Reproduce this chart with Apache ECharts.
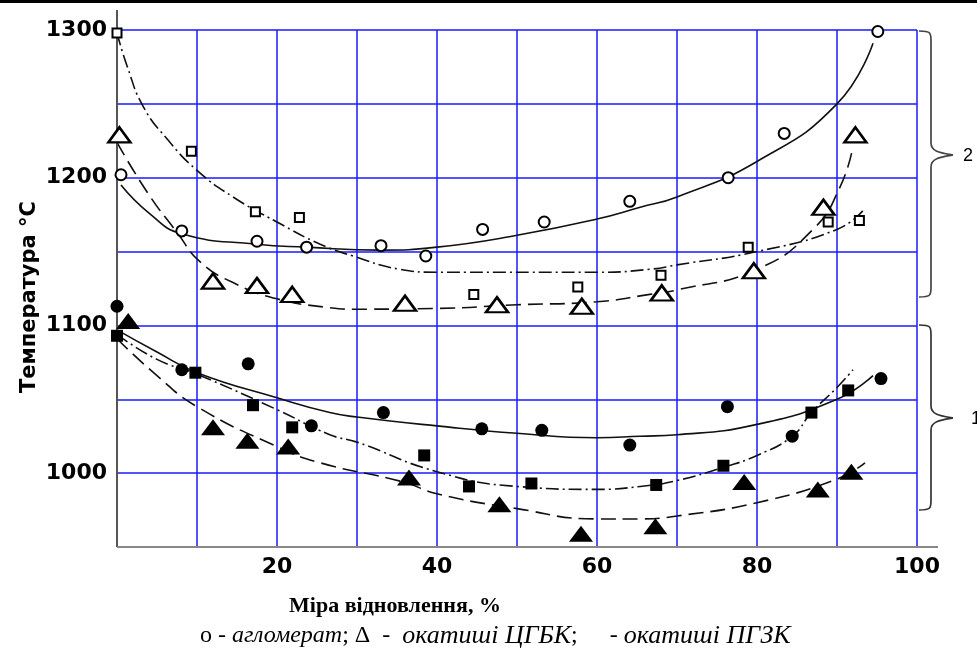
<!DOCTYPE html>
<html>
<head>
<meta charset="utf-8">
<script src="https://cdn.jsdelivr.net/npm/echarts@6/dist/echarts.min.js"></script>
<style>
html,body{margin:0;padding:0;background:#fff;}
#c{width:977px;height:651px;}
</style>
</head>
<body>
<div id="c"></div>
<script>
// ---- tick labels ----
const xTickLabels = [20, 40, 60, 80, 100];
const yTickLabels = [1000, 1100, 1200, 1300];

// ---- group 2 (open markers) ----
const aggloOpen = [[0.5,1202],[8.1,1164],[17.5,1157],[23.7,1153],[33,1154],[38.6,1147],[45.7,1165],[53.4,1170],[64.1,1184],[76.4,1200],[83.4,1230],[95.1,1299]];
const cgbkOpen = [[0.3,1229],[12,1130],[17.5,1127],[21.9,1121],[36,1115],[47.5,1114],[58.1,1113],[68.1,1122],[79.6,1137],[88.3,1180],[92.3,1229]];
const pgzkOpen = [[0,1298],[9.3,1218],[17.3,1177],[22.8,1173],[44.6,1121],[57.6,1126],[68,1134],[78.9,1153],[88.9,1170],[92.8,1171]];

// ---- group 1 (filled markers) ----
const aggloFilled = [[0,1113],[8.1,1070],[16.4,1074],[24.3,1032],[33.3,1041],[45.6,1030],[53.1,1029],[64.1,1019],[76.3,1045],[84.4,1025],[95.5,1064]];
const pgzkFilled = [[0,1093],[9.8,1068],[17,1046],[21.9,1031],[38.4,1012],[44,991],[51.8,993],[67.4,992],[75.8,1005],[86.8,1041],[91.4,1056]];
const cgbkFilled = [[1.4,1103],[12,1031],[16.3,1022],[21.4,1018],[36.5,997],[47.8,979],[58,959],[67.3,964],[78.4,994],[87.6,989],[91.8,1001]];

// ---- fitted curves ----
const curve2Solid = [[0.5,1195],[4,1176],[8.1,1162],[17.5,1155],[23.7,1153],[32.9,1151],[40,1153],[50,1161],[60,1172],[65.4,1180],[70,1187],[80,1211],[90,1250],[94.5,1291]];
const curve2DashDot = [[0,1298],[1.3,1275],[3.3,1248],[6.3,1226],[10,1205],[14.5,1187],[20,1170],[25.4,1155],[29.5,1147],[35.4,1138],[40,1136],[60,1136],[66.6,1138],[70,1141],[80,1150],[90,1165],[93.3,1178]];
const curve2Dash = [[0,1224],[3.8,1190],[7.5,1163],[10.4,1143],[14.5,1129],[20,1118],[26.6,1112],[29.5,1111],[40,1111.5],[50,1114],[60,1116],[66.6,1121],[70,1124],[80,1138],[87,1165],[90.4,1194],[92,1221]];
const curve1Solid = [[0,1097],[5,1082],[10,1068],[20,1051],[26.6,1041],[30,1038],[40,1032],[50,1027],[60,1024],[65.4,1025],[70,1026],[80,1033],[90,1050],[94.5,1066]];
const curve1DashDot = [[0,1094],[5,1077],[10,1067],[20,1043],[26.6,1026],[30,1021],[40,1001],[50,991],[60,989],[65.4,991],[70,995],[75.8,1004],[80,1012],[84.4,1025],[86.8,1041],[90,1058],[92,1070]];
const curve1Dash = [[0,1091],[5,1066],[10,1045],[20,1018],[25.4,1007],[35.8,994],[40,986],[50,976],[60,969],[65.4,969],[70,971],[80,980],[90,996],[93.5,1007]];

const chart = echarts.init(document.getElementById('c'), null, {renderer: 'canvas'});

const tickFont = {fontFamily: 'DejaVu Sans', fontWeight: 'bold', fontSize: 22, color: '#000'};
const gridBlue = {color: '#1a1aff', width: 1.5};

function curve(data, type) {
  return {type: 'line', data: data, smooth: true, showSymbol: false, silent: true,
    lineStyle: {color: '#111', width: 1.6, type: type}, z: 3};
}
function marks(data, symbol, size, filled, bw) {
  return {type: 'scatter', data: data, symbol: symbol, symbolSize: size, silent: true, z: 5,
    itemStyle: filled ? {color: '#000', opacity: 1} : {color: '#fff', borderColor: '#000', borderWidth: bw, opacity: 1}};
}

const option = {
  animation: false,
  backgroundColor: '#fff',
  grid: {left: 117, top: 30, width: 800, height: 517, containLabel: false},
  xAxis: {
    type: 'value', min: 0, max: 100, interval: 10,
    axisLine: {show: false}, axisTick: {show: false},
    splitLine: {show: true, lineStyle: gridBlue},
    axisLabel: Object.assign({margin: 9, formatter: v => xTickLabels.includes(v) ? String(v) : ''}, tickFont)
  },
  yAxis: {
    type: 'value', min: 950, max: 1300, interval: 50,
    axisLine: {show: false}, axisTick: {show: false},
    splitLine: {show: true, lineStyle: gridBlue},
    axisLabel: Object.assign({margin: 10, formatter: v => yTickLabels.includes(v) ? String(v) : ''}, tickFont)
  },
  series: [
    curve(curve2Solid, 'solid'),
    curve(curve2DashDot, [13, 4, 2, 4]),
    curve(curve2Dash, [15, 7]),
    curve(curve1Solid, 'solid'),
    curve(curve1DashDot, [13, 4, 2, 4]),
    curve(curve1Dash, [15, 7]),
    marks(aggloOpen, 'circle', 11, false, 2),
    marks(cgbkOpen, 'triangle', [22, 15], false, 2.5),
    marks(pgzkOpen, 'rect', 9, false, 2),
    marks(aggloFilled, 'circle', 13, true),
    marks(pgzkFilled, 'rect', 12, true),
    marks(cgbkFilled, 'triangle', [24, 16], true)
  ]
};
chart.setOption(option);

// decorations: axis lines, titles, braces
const p0 = chart.convertToPixel({gridIndex: 0}, [0, 950]);
const p100 = chart.convertToPixel({gridIndex: 0}, [100, 1300]);
const x0 = p0[0], yb = p0[1], x1 = p100[0];

function brace(top, mid, bottom, xl, xv, xt, color) {
  const st = {stroke: color, lineWidth: 1.7, fill: null};
  return [
    {type: 'bezierCurve', shape: {x1: xl, y1: top, cpx1: xv, cpy1: top, cpx2: xv, cpy2: top + 2, x2: xv, y2: top + 10}, style: st},
    {type: 'line', shape: {x1: xv, y1: top + 10, x2: xv, y2: mid - 12}, style: st},
    {type: 'bezierCurve', shape: {x1: xv, y1: mid - 12, cpx1: xv, cpy1: mid - 3, cpx2: xt - 12, cpy2: mid - 2, x2: xt, y2: mid}, style: st},
    {type: 'bezierCurve', shape: {x1: xt, y1: mid, cpx1: xt - 12, cpy1: mid + 2, cpx2: xv, cpy2: mid + 3, x2: xv, y2: mid + 12}, style: st},
    {type: 'line', shape: {x1: xv, y1: mid + 12, x2: xv, y2: bottom - 10}, style: st},
    {type: 'bezierCurve', shape: {x1: xv, y1: bottom - 10, cpx1: xv, cpy1: bottom - 2, cpx2: xv, cpy2: bottom, x2: xl, y2: bottom}, style: st}
  ];
}

const graphics = [
  {type: 'rect', shape: {x: 0, y: 0, width: 977, height: 3}, style: {fill: '#000'}, z: 10},
  {type: 'line', shape: {x1: x0, y1: 10, x2: x0, y2: yb}, style: {stroke: '#555', lineWidth: 2}, z: 4},
  {type: 'line', shape: {x1: x0, y1: yb, x2: x1 + 21, y2: yb}, style: {stroke: '#888', lineWidth: 2}, z: 4},
  {type: 'text', x: 30, y: 297, rotation: Math.PI / 2,
    style: {text: 'Температура °С', fontFamily: 'DejaVu Sans', fontWeight: 'bold', fontSize: 21,
      fill: '#000', align: 'center', verticalAlign: 'middle'}},
  {type: 'text', x: 395, y: 606,
    style: {text: 'Міра відновлення, %', fontFamily: 'Liberation Serif', fontWeight: 'bold', fontSize: 22,
      fill: '#000', align: 'center', verticalAlign: 'middle'}},
  {type: 'text', x: 200, y: 636,
    style: {
      text: '{n|о - }{i|агломерат}{n|; Δ  -  }{j|окатиші ЦГБК}{n|;}{g|}{n|- }{j|окатиші ПГЗК}',
      verticalAlign: 'middle', align: 'left',
      rich: {
        n: {fontFamily: 'Liberation Serif', fontSize: 24, fill: '#000'},
        i: {fontFamily: 'Liberation Serif', fontStyle: 'italic', fontSize: 24, fill: '#000'},
        j: {fontFamily: 'Liberation Serif', fontStyle: 'italic', fontSize: 26, fill: '#000'},
        g: {width: 32}
      }
    }},
  {type: 'text', x: 968, y: 156,
    style: {text: '2', fontFamily: 'Liberation Sans', fontSize: 18, fill: '#000', align: 'center', verticalAlign: 'middle'}},
  {type: 'text', x: 976, y: 419,
    style: {text: '1', fontFamily: 'Liberation Sans', fontSize: 18, fill: '#000', align: 'center', verticalAlign: 'middle'}}
].concat(brace(31, 155, 297, 919, 931, 953, '#444'), brace(325, 418, 510, 919, 931, 953, '#333'));

chart.setOption({graphic: graphics});
</script>
</body>
</html>
